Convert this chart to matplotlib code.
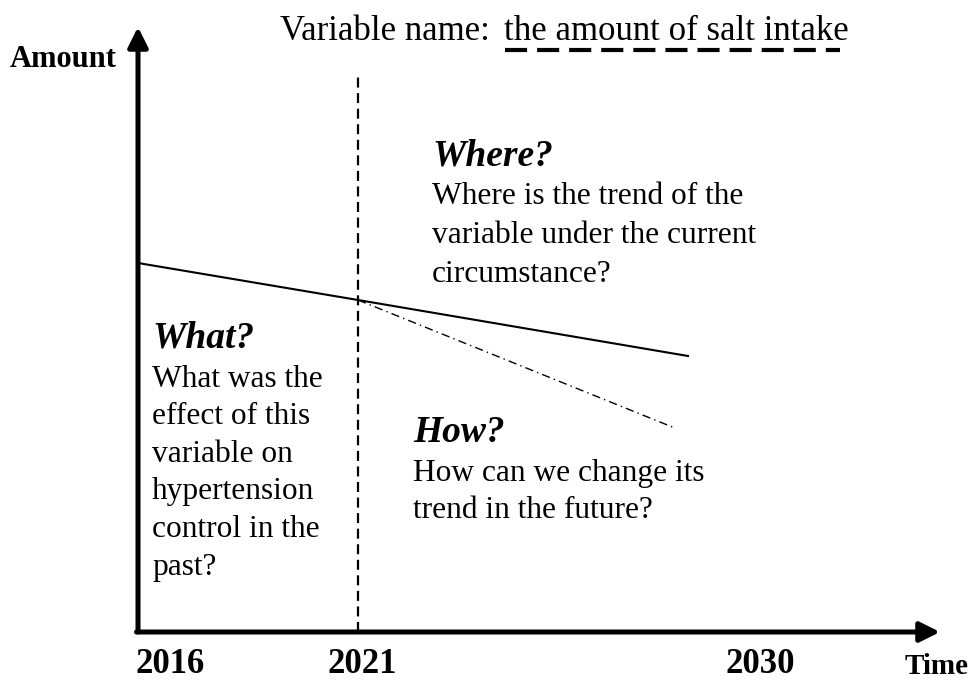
import matplotlib
matplotlib.use("Agg")
import matplotlib.pyplot as plt

# ---- data ----
years_axis = [2016, 2021, 2030]
year_labels = ["2016", "2021", "2030"]
current_trend_years = [2016, 2021, 2028.5]
current_trend_amount = [36.9, 33.2, 27.6]
changed_trend_years = [2021, 2028.2]
changed_trend_amount = [33.2, 20.4]
divider_year = 2021

title_prefix = "Variable name: "
title_var = "the amount of salt intake"
where_head = "Where?"
where_lines = ["Where is the trend of the", "variable under the current", "circumstance?"]
what_head = "What?"
what_lines = ["What was the", "effect of this", "variable on", "hypertension", "control in the", "past?"]
how_head = "How?"
how_lines = ["How can we change its", "trend in the future?"]

W, H = 972, 681
fig = plt.figure(figsize=(W / 100, H / 100), dpi=100)
ax = fig.add_axes([0, 0, 1, 1])
# data coordinates: x in years, y in amount units
ax.set_xlim(2016 - 138 / 44, 2016 + (W - 138) / 44)
ax.set_ylim((632 - H) / 10, 632 / 10)
ax.axis("off")

serif = ["Liberation Serif", "DejaVu Serif"]

def P(x, y):
    return (x / W, 1 - y / H)

# axes with arrows
y0 = 0.0
ax.annotate("", xy=(2016, (632 - 27) / 10), xytext=(2016, y0),
            arrowprops=dict(arrowstyle="-|>,head_length=1.2,head_width=0.6",
                            lw=3.6, color="black", shrinkA=0, shrinkB=0,
                            mutation_scale=10))
ax.annotate("", xy=(2016 + (940 - 138) / 44, y0), xytext=(2016 - 1.5 / 44, y0),
            arrowprops=dict(arrowstyle="-|>,head_length=1.2,head_width=0.6",
                            lw=3.6, color="black", shrinkA=0, shrinkB=0,
                            mutation_scale=10))

# vertical dashed divider
ax.plot([divider_year, divider_year], [0, (632 - 75) / 10], color="black",
        lw=1.6, dashes=(4.5, 2.5))

# trend lines
ax.plot(current_trend_years, current_trend_amount, color="black", lw=1.5)
ax.plot(changed_trend_years, changed_trend_amount, color="black", lw=1.0,
        dashes=(6, 3, 1, 3))

# title
fig.text(*P(280, 40), title_prefix, fontsize=25, family=serif, va="baseline", ha="left")
fig.text(*P(504, 40), title_var, fontsize=25, family=serif, va="baseline", ha="left")
fig.add_artist(plt.Line2D([505 / W, 840 / W], [1 - 50 / H, 1 - 50 / H],
                          color="black", lw=3, dashes=(5.3, 2.4)))

# axis labels
fig.text(*P(10, 67), "Amount", fontsize=22, family=serif, weight="bold", va="baseline")
fig.text(*P(905, 674), "Time", fontsize=21, family=serif, weight="bold", va="baseline")
label_x = [135, 327, 725]
for lx, lab in zip(label_x, year_labels):
    fig.text(*P(lx, 673), lab, fontsize=25, family=serif, weight="bold", va="baseline")

# annotation blocks
def block(x, head_y, head, lines, first_y, step):
    fig.text(*P(x, head_y), head, fontsize=27, family=serif, weight="bold",
             style="italic", va="baseline")
    for i, ln in enumerate(lines):
        fig.text(*P(x, first_y + i * step), ln, fontsize=22.6, family=serif,
                 va="baseline")

block(432, 166, where_head, where_lines, 204, 39)
block(152, 347, what_head, what_lines, 387, 37.5)
block(413, 442, how_head, how_lines, 481, 37)

fig.savefig("out.png", dpi=100)
